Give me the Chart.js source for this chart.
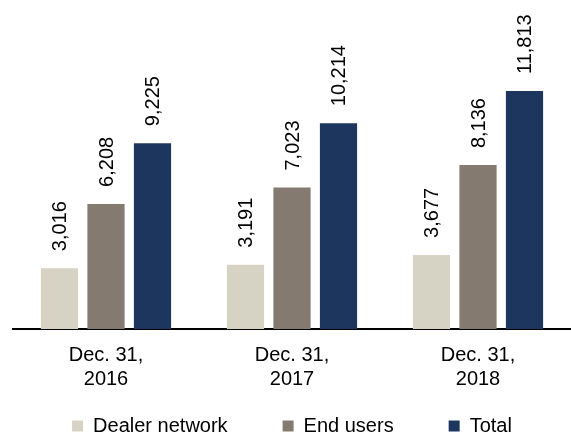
<!DOCTYPE html>
<html>
<head>
<meta charset="utf-8">
<script src="https://cdn.jsdelivr.net/npm/chart.js@4.4.1/dist/chart.umd.min.js"></script>
<style>
  html, body { margin: 0; padding: 0; background: #fff; }
  #wrap { width: 571px; height: 440px; }
</style>
</head>
<body>
<div id="wrap"><canvas id="chart"></canvas></div>
<script>
// datos
const categorias = [['Dec. 31,', '2016'], ['Dec. 31,', '2017'], ['Dec. 31,', '2018']];
const dealerNetwork = [3016, 3191, 3677];
const endUsers = [6208, 7023, 8136];
const total = [9225, 10214, 11813];

const FONT = '"Liberation Sans", Arial, sans-serif';

// etiquetas giradas encima de cada barra
const etiquetasBarras = {
    id: 'etiquetasBarras',
    afterDatasetsDraw(chart) {
        const ctx = chart.ctx;
        ctx.save();
        ctx.font = '20px ' + FONT;
        ctx.fillStyle = '#000';
        ctx.textAlign = 'left';
        ctx.textBaseline = 'middle';
        chart.data.datasets.forEach((ds, i) => {
            const meta = chart.getDatasetMeta(i);
            meta.data.forEach((bar, j) => {
                ctx.save();
                ctx.translate(bar.x + 1, bar.y - 17);
                ctx.rotate(-Math.PI / 2);
                ctx.fillText(ds.data[j].toLocaleString('en-US'), 0, 0);
                ctx.restore();
            });
        });
        ctx.restore();
    }
};

// la leyenda lleva mucho padding horizontal; se sube su caja para que no quede fuera
const subirLeyenda = {
    id: 'subirLeyenda',
    afterLayout(chart) {
        chart.legend.top = chart.legend.bottom - 79;
    }
};

const ctx = document.getElementById('chart').getContext('2d');
new Chart(ctx, {
    type: 'bar',
    data: {
        labels: categorias,
        datasets: [
            { label: 'Dealer network', data: dealerNetwork, backgroundColor: '#d6d3c4' },
            { label: 'End users', data: endUsers, backgroundColor: '#857a70' },
            { label: 'Total', data: total, backgroundColor: '#1c365d' }
        ]
    },
    options: {
        responsive: true,
        maintainAspectRatio: false,
        animation: false,
        datasets: { bar: { categoryPercentage: 0.75, barPercentage: 0.8 } },
        layout: { padding: { left: 13, right: 0, top: 0, bottom: 0 } },
        scales: {
            x: {
                grid: { display: false },
                border: { display: true, color: '#000', width: 2 },
                ticks: { color: '#000', font: { family: FONT, size: 20 }, padding: 6, maxRotation: 0 },
                afterFit: (scale) => { scale.height = 66; }
            },
            y: { display: false, min: 0, max: 16330 }
        },
        plugins: {
            legend: {
                position: 'bottom',
                maxHeight: 45,
                labels: {
                    color: '#000',
                    font: { family: FONT, size: 20 },
                    boxWidth: 11,
                    boxHeight: 11,
                    padding: 55
                }
            },
            tooltip: { enabled: false }
        }
    },
    plugins: [etiquetasBarras, subirLeyenda]
});
</script>
</body>
</html>
